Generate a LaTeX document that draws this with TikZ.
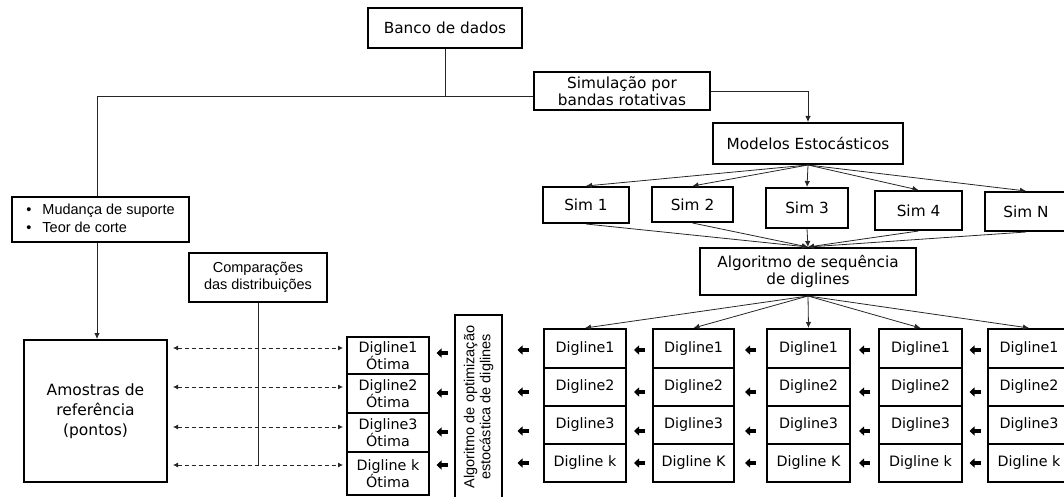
\documentclass[tikz,border=0pt]{standalone}
\usepackage{fontspec}
\setmainfont{DejaVu Sans}
\newfontfamily\ar{Liberation Sans}
\usetikzlibrary{arrows.meta,calc}
\newcommand\blkarr[3]{\draw[blk] ($(#1)!.5!(#2 |- #1)+(5.5,#3)$) -- ++(-11,0);}
\begin{document}
\begin{tikzpicture}[x=1pt,y=-1pt,
 box/.style={draw, line width=2pt, inner sep=1pt, align=center, font=\fontsize{15.3}{17.5}\selectfont},
 dbox/.style={box, font=\fontsize{14.3}{16}\selectfont},
 abox/.style={box, font=\ar\fontsize{14.5}{18}\selectfont},
 con/.style={draw=black!85, line width=0.8pt},
 arr/.style={con, -{Latex[length=6pt,width=5.5pt]}},
 darr/.style={con, dash pattern=on 4pt off 3pt, {Latex[length=5pt,width=5pt]}-{Latex[length=5pt,width=5pt]}},
 blk/.style={line width=3.5pt, -{Triangle[length=5pt,width=9pt]}},
]
\useasboundingbox (0,0) rectangle (1064,497);

% top part
\node[box, minimum width=154pt, minimum height=40pt] (banco) at (445,28) {Banco de dados};
\node[box, minimum width=176pt, minimum height=38pt] (simu) at (622,91) {Simulação por\\bandas rotativas};
\node[box, minimum width=190pt, minimum height=41pt] (mod) at (808,143.5) {Modelos Estocásticos};
\node[box, minimum width=86pt, minimum height=36pt] (s1) at (586,205) {Sim 1};
\node[box, minimum width=81pt, minimum height=35pt] (s2) at (692.5,204.5) {Sim 2};
\node[box, minimum width=82pt, minimum height=40pt] (s3) at (807,208) {Sim 3};
\node[box, minimum width=87pt, minimum height=39pt] (s4) at (918.5,210.5) {Sim 4};
\node[box, minimum width=82pt, minimum height=39pt] (sN) at (1026,211.5) {Sim N};
\node[box, minimum width=216pt, minimum height=47pt] (alg) at (808,271.5) {Algoritmo de sequência\\de diglines};

% left part
\node[abox, minimum width=177pt, minimum height=45pt] (mud) at (100.5,219.5)
  {\begin{tabular}{@{}l@{\hspace{11pt}}l@{}}•&Mudança de suporte\\•&Teor de corte\end{tabular}};
\node[abox, font=\ar\fontsize{14.5}{17}\selectfont, minimum width=138pt, minimum height=49pt] (comp) at (258,277.5) {Comparações\\das distribuições};
\node[box, font=\fontsize{15.5}{20}\selectfont, minimum width=143pt, minimum height=142pt] (amo) at (95.5,411) {Amostras de\\referência\\(pontos)};

% optimal diglines
\node[dbox, minimum width=82pt, minimum height=37pt] (o1) at (388,355.5) {Digline1\\Ótima};
\node[dbox, minimum width=82pt, minimum height=39pt] (o2) at (388,393.5) {Digline2\\Ótima};
\node[dbox, minimum width=82pt, minimum height=39pt] (o3) at (388,432.5) {Digline3\\Ótima};
\node[dbox, minimum width=82pt, minimum height=43pt] (o4) at (388,473.5) {Digline k\\Ótima};

% optimisation algorithm (vertical)
\node[box, rotate=90, font=\ar\fontsize{14.5}{16}\selectfont, minimum width=184pt, minimum height=47pt] (opt) at (478.5,407) {Algoritmo de optimização\\estocástica de diglines};

% digline columns
\foreach \c/\cx/\w/\k in {1/585/82/k, 2/693.5/81/K, 3/808.5/83/K, 4/920.5/83/k, 5/1029/82/k} {
  \node[dbox, minimum width=\w pt, minimum height=39pt] (c\c r1) at (\cx,348.5) {Digline1};
  \node[dbox, minimum width=\w pt, minimum height=38pt] (c\c r2) at (\cx,387) {Digline2};
  \node[dbox, minimum width=\w pt, minimum height=38pt] (c\c r3) at (\cx,425) {Digline3};
  \node[dbox, minimum width=\w pt, minimum height=38pt] (c\c r4) at (\cx,463) {Digline \k};
}

% connectors
\coordinate (j) at (banco.south |- 0,96);
\coordinate (jl) at (97,96);
\draw[con] (banco.south) -- (j);
\draw[con] (jl) -- (simu.west |- j);
\draw[con] (jl) -- (jl |- mud.north);
\draw[arr] (jl |- mud.south) -- (jl |- amo.north);
\draw[arr] (simu.east) -| (mod.north);
\foreach \s in {s1,s2,s3,s4,sN} {
  \draw[arr] (mod.south) -- (\s.north);
  \draw[arr] (\s.south) -- (alg.north);
}
\foreach \c in {1,...,5} \draw[arr] (alg.south) -- (c\c r1.north);

% dashed comparisons
\foreach \i/\dy in {1/7.5,2/6.5,3/5.5,4/8.5} {
  \coordinate (d\i) at ([yshift=\dy pt]o\i.west);
  \draw[darr, shorten <=5pt, shorten >=3pt] (amo.east |- d\i) -- (d\i);
}
\draw[con] (comp.south) -- (comp.south |- d4);

% small block arrows
\foreach \r/\dy in {1/1.5,2/5,3/6,4/0} {
  \foreach \a/\b in {2/1,3/2,4/3,5/4} {\blkarr{c\a r\r.west}{c\b r\r.east}{\dy}}
  \blkarr{c1r\r.west}{opt.south}{\dy}
}
\foreach \r/\dy in {1/-2.5,2/-0.5,3/-0.5,4/-8.5} {
  \draw[blk] ($(opt.north |- o\r.east)!.5!(o\r.east)+(5.5,\dy)$) -- ++(-11,0);
}
\end{tikzpicture}
\end{document}
